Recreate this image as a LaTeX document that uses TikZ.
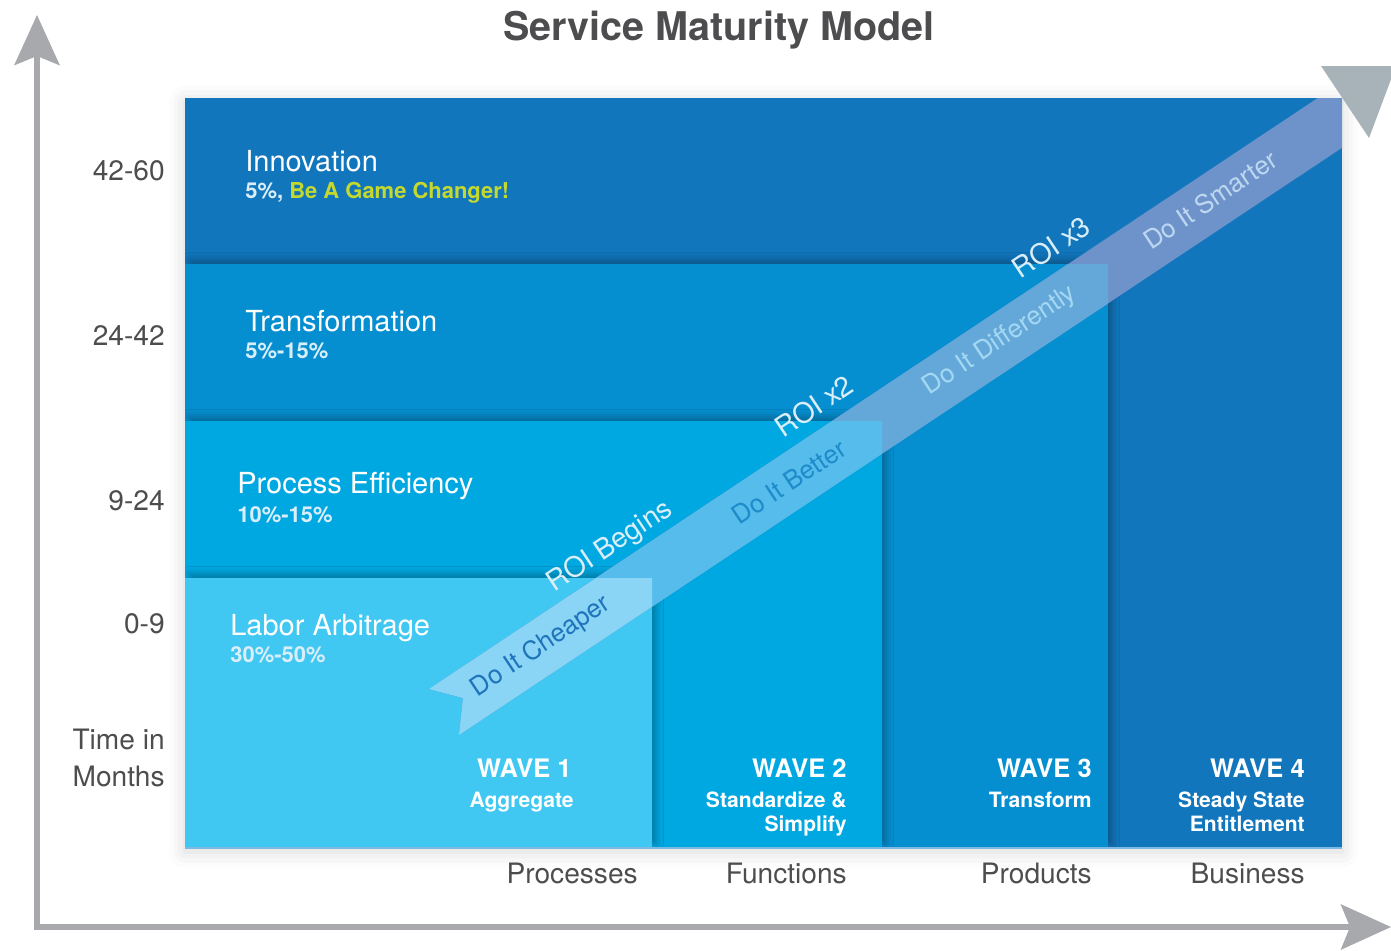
\documentclass[tikz,border=0pt]{standalone}
\usepackage{fontspec}
\setmainfont{TeX Gyre Heros}
\usetikzlibrary{arrows.meta,shadows.blur}

\definecolor{innov}{HTML}{1176BC}
\definecolor{transf}{HTML}{068FD0}
\definecolor{proc}{HTML}{00A8E2}
\definecolor{labor}{HTML}{40C8F2}
\definecolor{ribinnov}{HTML}{6E93CB}
\definecolor{ribtransf}{HTML}{64A8DA}
\definecolor{ribproc}{HTML}{55BCEB}
\definecolor{riblabor}{HTML}{8AD5F6}
\definecolor{axisgray}{HTML}{A7A9AC}
\definecolor{trigray}{HTML}{A8B3B9}
\definecolor{lblgray}{HTML}{4D4D4F}
\definecolor{subwhite}{HTML}{D9EEF9}
\definecolor{gamegreen}{HTML}{C5D82E}
\definecolor{edgeblue}{HTML}{7DB9E2}
\definecolor{cheapblue}{HTML}{1F74BB}
\definecolor{betterblue}{HTML}{1E8BCB}
\definecolor{differblue}{HTML}{A3D7F2}
\definecolor{smartblue}{HTML}{BCD7EF}

\newcommand{\ribbon}{(429,689) -- (463,698) -- (459,735) -- (1459,70) -- (1429,24) -- cycle}

\begin{document}
\begin{tikzpicture}[x=0.02cm, y=-0.02cm, inner sep=0pt,
  >={Stealth[length=1cm, width=0.9cm, inset=0.18cm]},
  axis/.style={<->, draw=axisgray, line width=3.2pt},
  zone/.style={blur shadow={shadow xshift=2.5pt, shadow yshift=2.5pt, shadow blur radius=4pt, shadow opacity=28}},
  monthlbl/.style={anchor=base east, text=lblgray, align=right, font=\fontsize{16}{21}\selectfont},
  zonetitle/.style={anchor=base west, text=white, font=\fontsize{16.5}{19}\selectfont},
  zonesub/.style={anchor=base west, text=subwhite, font=\bfseries\fontsize{12.5}{15}\selectfont},
  wavehead/.style={anchor=base east, text=white, font=\bfseries\fontsize{14.5}{17}\selectfont},
  wavesub/.style={anchor=base east, text=white, align=right, font=\bfseries\fontsize{12}{13.6}\selectfont},
  catlbl/.style={anchor=base east, text=lblgray, font=\fontsize{16}{19}\selectfont},
  ribtext/.style={rotate=33.6, font=\fontsize{14.7}{17}\selectfont},
  roitext/.style={rotate=33.6, text=subwhite, font=\fontsize{16}{19}\selectfont}]
\useasboundingbox (0,0) rectangle (1391,950);

% axes
\coordinate (orig) at (37,927);
\coordinate (ytip) at (37,15);
\coordinate (xtip) at (1391,927);
\draw[axis] (ytip) -- (orig) -- (xtip);

\node[anchor=base, text=lblgray, font=\bfseries\fontsize{22.5}{27}\selectfont] (title) at (719,40) {Service Maturity Model};

% nested zones
\fill[innov, blur shadow={shadow xshift=0pt, shadow yshift=-2pt, shadow blur radius=9pt, shadow opacity=16}] (185,98) rectangle (1342,848);
\begin{scope}
  \clip (185,98) rectangle (1342,848);
  \fill[transf, zone] (185,264) rectangle (1108,848);
  \fill[proc, zone] (185,421) rectangle (882,848);
  \fill[labor, zone] (185,578) rectangle (652,848);
\end{scope}
\draw[edgeblue, line width=1.2pt] (185,848) -- (1342,848);

% ribbon, one tint per zone
\foreach \x/\y/\c in {1342/98/ribinnov, 1108/264/ribtransf, 882/421/ribproc, 652/578/riblabor} {
  \begin{scope}
    \clip (185,\y) rectangle (\x,848);
    \fill[\c] \ribbon;
  \end{scope}
}
\fill[trigray] (1321,66) -- (1396,66) -- (1369,138) -- cycle;

% months
\node[monthlbl] (m42) at (165,180) {42-60};
\node[monthlbl] (m24) at (165,345) {24-42};
\node[monthlbl] (m9) at (165,510) {9-24};
\node[monthlbl] (m0) at (165,633) {0-9};
\node[monthlbl] (time) at (165,786) {Time in\\Months};

% zone labels
\node[zonetitle] (innovlbl) at (245,171) {Innovation};
\node[zonesub] (innovsub) at (245,198) {5\%, \textcolor{gamegreen}{Be A Game Changer!}};
\node[zonetitle] (transflbl) at (245,331) {Transformation};
\node[zonesub] (transfsub) at (245,358) {5\%-15\%};
\node[zonetitle] (proclbl) at (237,493) {Process Efficiency};
\node[zonesub] (procsub) at (237,522) {10\%-15\%};
\node[zonetitle] (laborlbl) at (230,635) {Labor Arbitrage};
\node[zonesub] (laborsub) at (230,662) {30\%-50\%};

% waves
\node[wavehead] (w1) at (572,777) {WAVE 1};
\node[wavesub] (w1sub) at (574,807) {Aggregate};
\node[wavehead] (w2) at (847,777) {WAVE 2};
\node[wavesub] (w2sub) at (847,831) {Standardize \&\\Simplify};
\node[wavehead] (w3) at (1092,777) {WAVE 3};
\node[wavesub] (w3sub) at (1092,807) {Transform};
\node[wavehead] (w4) at (1305,777) {WAVE 4};
\node[wavesub] (w4sub) at (1305,831) {Steady State\\Entitlement};

\node[catlbl] (processes) at (638,883) {Processes};
\node[catlbl] (functions) at (847,883) {Functions};
\node[catlbl] (products) at (1092,883) {Products};
\node[catlbl] (business) at (1305,883) {Business};

% ribbon texts
\node[ribtext, text=cheapblue] (cheaper) at (541,647) {Do It Cheaper};
\node[ribtext, text=betterblue] (better) at (789,482) {Do It Better};
\node[ribtext, text=differblue] (differ) at (1000,341) {Do It Differently};
\node[ribtext, text=smartblue] (smarter) at (1210,200) {Do It Smarter};
\node[roitext] (roi1) at (610,547) {ROI Begins};
\node[roitext] (roi2) at (814,406) {ROI x2};
\node[roitext] (roi3) at (1051,247) {ROI x3};
\end{tikzpicture}
\end{document}
